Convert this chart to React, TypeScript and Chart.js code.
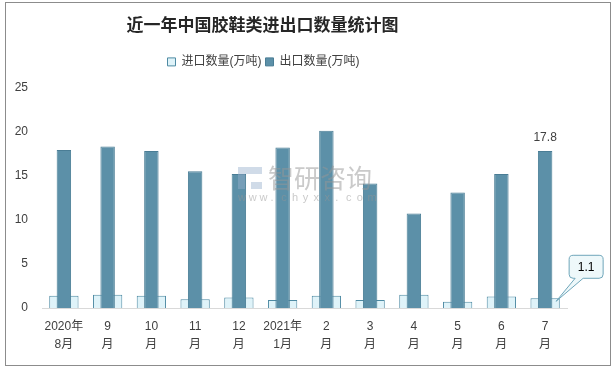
import React, { useEffect, useRef } from "react";
import { Chart, registerables } from "chart.js";

Chart.register(...registerables);

const TITLE = "近一年中国胶鞋类进出口数量统计图";
const categories: string[][] = [
  ["2020年", "8月"], ["9", "月"], ["10", "月"], ["11", "月"], ["12", "月"],
  ["2021年", "1月"], ["2", "月"], ["3", "月"], ["4", "月"], ["5", "月"], ["6", "月"], ["7", "月"],
];
const importLabel = "进口数量(万吨)";
const exportLabel = "出口数量(万吨)";
const importValues = [1.4, 1.5, 1.4, 1.0, 1.2, 0.9, 1.4, 0.9, 1.5, 0.7, 1.3, 1.1];
const exportValues = [17.9, 18.3, 17.8, 15.5, 15.2, 18.2, 20.1, 14.1, 10.7, 13.1, 15.2, 17.8];
const yTicks = [0, 5, 10, 15, 20, 25];

const FONT = '"Liberation Sans", "Noto Sans CJK SC", sans-serif';
const TEXT = "#404040";

const overlayPlugin = {
  id: "overlay",
  afterLayout(chart: any) {
    const tb = chart.titleBlock;
    if (tb) {
      tb.left -= 21;
      tb.right -= 21;
    }
    const lg = chart.legend;
    if (lg) {
      lg.left -= 20;
      lg.right -= 20;
    }
  },
  afterDatasetsDraw(chart: any) {
    const ctx = chart.ctx;
    ctx.save();
    // watermark
    ctx.fillStyle = "rgba(150,175,205,0.45)";
    ctx.fillRect(238, 167, 7, 22);
    ctx.fillRect(245, 167, 17, 7);
    ctx.fillRect(251, 182, 11, 7);
    ctx.fillStyle = "rgba(150,150,150,0.5)";
    ctx.font = '26px "Noto Sans CJK SC", sans-serif';
    ctx.textBaseline = "middle";
    ctx.textAlign = "left";
    ctx.fillText("智研咨询", 268, 178);
    ctx.font = '11px "Liberation Sans", sans-serif';
    const s = "www.chyxx.com";
    for (let i = 0; i < s.length; i++) {
      ctx.fillText(s[i], 238 + i * 10.8, 198);
    }

    const last = categories.length - 1;
    const expEl = chart.getDatasetMeta(1).data[last];
    ctx.fillStyle = TEXT;
    ctx.font = "12px " + FONT;
    ctx.textAlign = "center";
    ctx.textBaseline = "middle";
    ctx.fillText(String(exportValues[last]), expEl.x, expEl.y - 13);

    const impEl = chart.getDatasetMeta(0).data[last];
    const px = impEl.x + 11, py = impEl.y + 3;
    const l = impEl.x + 24, r = impEl.x + 58, t = impEl.y - 43, b = impEl.y - 20;
    const rad = 4;
    ctx.beginPath();
    ctx.moveTo(l + rad, t);
    ctx.lineTo(r - rad, t);
    ctx.quadraticCurveTo(r, t, r, t + rad);
    ctx.lineTo(r, b - rad);
    ctx.quadraticCurveTo(r, b, r - rad, b);
    ctx.lineTo(l + 14, b);
    ctx.lineTo(px, py);
    ctx.lineTo(l + 6, b);
    ctx.lineTo(l + rad, b);
    ctx.quadraticCurveTo(l, b, l, b - rad);
    ctx.lineTo(l, t + rad);
    ctx.quadraticCurveTo(l, t, l + rad, t);
    ctx.closePath();
    ctx.fillStyle = "#EEF8FA";
    ctx.fill();
    ctx.strokeStyle = "#6FA6BA";
    ctx.lineWidth = 1;
    ctx.stroke();
    ctx.fillStyle = "#000";
    ctx.fillText(String(importValues[last]), (l + r) / 2, (t + b) / 2 + 1);
    ctx.restore();
  },
};

export default function App() {
  const ref = useRef<HTMLCanvasElement>(null);
  useEffect(() => {
    const chart = new Chart(ref.current!, {
      type: "bar",
      data: {
        labels: categories,
        datasets: [
          {
            label: importLabel,
            data: importValues,
            backgroundColor: "#DFF3F9",
            borderColor: "#4E8AA3",
            borderWidth: 1,
            barPercentage: 0.67,
            categoryPercentage: 1,
            grouped: false,
            order: 2,
          },
          {
            label: exportLabel,
            data: exportValues,
            backgroundColor: "#5C90A8",
            borderColor: "#4A7D95",
            borderWidth: 1,
            barPercentage: 0.33,
            categoryPercentage: 1,
            grouped: false,
            order: 1,
          },
        ],
      },
      options: {
        animation: false,
        responsive: false,
        maintainAspectRatio: false,
        layout: { padding: { left: 0, right: 47, top: 0, bottom: 7 } },
        plugins: {
          tooltip: { enabled: false },
          title: {
            display: true,
            text: TITLE,
            color: "#262626",
            font: { size: 17, weight: "bold", family: '"Noto Sans CJK SC", sans-serif' },
            padding: { top: 14, bottom: 17.5 },
          },
          legend: {
            display: true,
            labels: {
              color: TEXT,
              font: { size: 12, family: FONT },
              boxWidth: 8,
              boxHeight: 8,
              padding: 4,
              sort: (a: any, b: any) => a.datasetIndex - b.datasetIndex,
            },
          },
        },
        scales: {
          x: {
            grid: { display: false, drawTicks: false },
            border: { display: true, color: "#D9D9D9" },
            ticks: {
              color: TEXT,
              font: { size: 12, family: FONT, lineHeight: 1.5 },
              padding: 10,
              maxRotation: 0,
              autoSkip: false,
            },
          },
          xTop: {
            type: "linear",
            axis: "x",
            position: "top",
            display: true,
            grid: { display: false, drawTicks: false },
            border: { display: false },
            ticks: { display: false },
            afterFit: (s: any) => {
              s.height = 9.5;
            },
          },
          y: {
            min: 0,
            max: 25,
            afterBuildTicks: (s: any) => {
              s.ticks = yTicks.map((v) => ({ value: v }));
            },
            afterFit: (s: any) => {
              s.width = 42;
            },
            grid: { display: false, drawTicks: false },
            border: { display: false },
            ticks: { color: TEXT, font: { size: 12, family: FONT }, padding: 14 },
          },
        },
      },
      plugins: [overlayPlugin],
    });
    return () => chart.destroy();
  }, []);
  return (
    <div style={{ position: "fixed", left: 0, top: 0, width: 614, height: 371, background: "#fff" }}>
      <div
        style={{
          position: "absolute",
          left: 5,
          top: 2,
          width: 604,
          height: 362,
          border: "1px solid #8c8c8c",
        }}
      />
      <canvas ref={ref} width={614} height={371} style={{ position: "absolute", left: 0, top: 0 }} />
    </div>
  );
}
